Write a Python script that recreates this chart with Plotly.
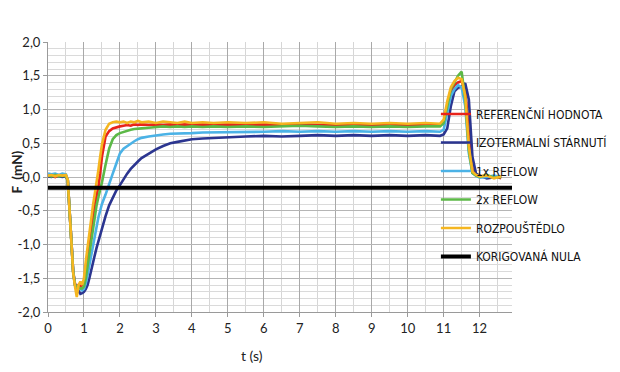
import plotly.graph_objects as go

# ---- data ----
t_s = [0, 0.1, 0.2, 0.3, 0.4, 0.5, 0.55, 0.6, 0.65, 0.7, 0.75, 0.8, 0.85, 0.9, 0.95,
       1.0, 1.05, 1.1, 1.15, 1.2, 1.25, 1.3, 1.35, 1.4, 1.45, 1.5, 1.6, 1.7, 1.8, 1.9,
       2.0, 2.1, 2.2, 2.3, 2.4, 2.5, 2.6, 2.8, 3.0, 3.2, 3.4, 3.6, 3.8, 4.0, 4.3, 4.6,
       5.0, 5.5, 6.0, 6.5, 7.0, 7.5, 8.0, 8.5, 9.0, 9.5, 10.0, 10.5, 10.9,
       11.0, 11.1, 11.2, 11.3, 11.4, 11.5, 11.6, 11.7, 11.8, 11.9, 12.0, 12.2, 12.4, 12.6]

referencni = [0.01, 0.02, 0.0, 0.02, 0.01, 0.02, -0.05, -0.5, -1.0, -1.4, -1.58, -1.62, -1.6, -1.62, -1.6,
              -1.58, -1.4, -1.2, -0.98, -0.78, -0.6, -0.42, -0.28, -0.15, 0.05, 0.3, 0.6, 0.68, 0.72, 0.74,
              0.75, 0.76, 0.77, 0.76, 0.78, 0.77, 0.78, 0.77, 0.78, 0.77, 0.78, 0.77, 0.78, 0.77, 0.78, 0.77,
              0.78, 0.77, 0.78, 0.77, 0.78, 0.77, 0.77, 0.78, 0.77, 0.78, 0.77, 0.78, 0.77,
              0.8, 1.02, 1.25, 1.36, 1.4, 1.42, 1.3, 0.65, 0.12, 0.03, 0.02, 0.0, 0.01, -0.02]

izotermalni = [0.01, 0.0, 0.02, 0.01, 0.0, 0.01, -0.05, -0.5, -1.0, -1.4, -1.6, -1.64, -1.68, -1.73, -1.72,
               -1.7, -1.66, -1.6, -1.5, -1.4, -1.28, -1.16, -1.05, -0.95, -0.85, -0.76, -0.58, -0.42, -0.3, -0.2,
               -0.12, -0.03, 0.05, 0.12, 0.18, 0.23, 0.28, 0.35, 0.41, 0.46, 0.5, 0.52, 0.54, 0.56, 0.57, 0.58,
               0.59, 0.6, 0.61, 0.6, 0.61, 0.62, 0.61, 0.62, 0.61, 0.62, 0.61, 0.62, 0.61,
               0.63, 0.72, 1.05, 1.27, 1.32, 1.34, 1.39, 1.15, 0.3, 0.05, 0.02, -0.02, 0.0, 0.01]

reflow1 = [0.05, 0.04, 0.05, 0.03, 0.05, 0.04, -0.04, -0.5, -1.0, -1.4, -1.6, -1.62, -1.64, -1.66, -1.68,
           -1.66, -1.58, -1.45, -1.3, -1.15, -1.0, -0.86, -0.72, -0.6, -0.5, -0.4, -0.26, -0.12, 0.05, 0.2,
           0.35, 0.42, 0.46, 0.5, 0.53, 0.56, 0.58, 0.6, 0.62, 0.63, 0.64, 0.64, 0.65, 0.65, 0.66, 0.66,
           0.67, 0.66, 0.67, 0.68, 0.67, 0.68, 0.67, 0.68, 0.67, 0.68, 0.67, 0.68, 0.67,
           0.7, 0.95, 1.2, 1.3, 1.36, 1.33, 1.05, 0.35, 0.06, 0.02, -0.01, 0.0, 0.02, 0.0]

reflow2 = [0.02, 0.01, 0.03, 0.01, 0.02, 0.01, -0.05, -0.5, -1.0, -1.42, -1.6, -1.62, -1.64, -1.65, -1.65,
           -1.62, -1.5, -1.32, -1.12, -0.93, -0.75, -0.57, -0.42, -0.3, -0.2, -0.08, 0.18, 0.42, 0.56, 0.62,
           0.65, 0.67, 0.69, 0.7, 0.71, 0.72, 0.72, 0.73, 0.74, 0.75, 0.74, 0.75, 0.74, 0.75, 0.74, 0.75,
           0.74, 0.75, 0.74, 0.75, 0.76, 0.75, 0.74, 0.75, 0.74, 0.75, 0.74, 0.75, 0.75,
           0.8, 1.08, 1.3, 1.4, 1.5, 1.56, 1.15, 0.4, 0.06, 0.02, 0.0, 0.03, -0.01, 0.0]

rozpoustedlo = [0.02, 0.03, 0.01, 0.03, 0.02, 0.03, -0.04, -0.5, -1.0, -1.42, -1.62, -1.78, -1.6, -1.55, -1.6,
                -1.5, -1.25, -1.02, -0.8, -0.6, -0.42, -0.25, -0.1, 0.1, 0.3, 0.48, 0.7, 0.79, 0.81, 0.82,
                0.81, 0.82, 0.8, 0.82, 0.81, 0.83, 0.81, 0.82, 0.8, 0.82, 0.81, 0.8, 0.82, 0.8, 0.81, 0.8,
                0.81, 0.8, 0.81, 0.79, 0.8, 0.81, 0.79, 0.8, 0.79, 0.8, 0.79, 0.8, 0.79,
                0.85, 1.12, 1.33, 1.42, 1.47, 1.45, 1.2, 0.45, 0.08, 0.03, 0.01, 0.02, -0.02, 0.01]

nula_t = [0.0, 12.9]
nula_f = [-0.16, -0.16]

series_names = ["REFERENČNÍ HODNOTA", "IZOTERMÁLNÍ STÁRNUTÍ", "1x REFLOW",
                "2x REFLOW", "ROZPOUŠTĚDLO", "KORIGOVANÁ NULA"]
series_colors = ["#e8231b", "#2b3590", "#4bb2e6", "#5cb947", "#f5b620", "#000000"]

x_ticks = list(range(0, 13))
y_ticks = [-2.0, -1.5, -1.0, -0.5, 0.0, 0.5, 1.0, 1.5, 2.0]
y_labels = ["-2,0", "-1,5", "-1,0", "-0,5", "0,0", "0,5", "1,0", "1,5", "2,0"]

# ---- figure ----
fig = go.Figure()
all_series = [(t_s, referencni), (t_s, izotermalni), (t_s, reflow1),
              (t_s, reflow2), (t_s, rozpoustedlo), (nula_t, nula_f)]
for (xs, ys), name, color in zip(all_series, series_names, series_colors):
    fig.add_trace(go.Scatter(
        x=xs, y=ys, mode="lines", name=name, legendgroup=name,
        line=dict(color=color, width=4 if color == "#000000" else 2.6),
    ))

fig.update_layout(
    width=620, height=372,
    margin=dict(l=40, r=116, t=34, b=68, autoexpand=False),
    paper_bgcolor="white", plot_bgcolor="white",
    font=dict(family="Lato, Liberation Sans, sans-serif", size=12, color="#222"),
    showlegend=True,
    legend=dict(
        x=0.836, xanchor="left", y=0.787, yanchor="top",
        bgcolor="rgba(0,0,0,0)", traceorder="grouped", tracegroupgap=9.5,
        font=dict(family="DejaVu Sans Condensed, Liberation Sans, sans-serif", size=12, color="#111"),
        itemwidth=30,
    ),
    xaxis=dict(
        range=[0, 12.9], tickvals=x_ticks, showgrid=True, gridcolor="#a9a9a9", gridwidth=1,
        minor=dict(dtick=0.5, tick0=0, showgrid=True, gridcolor="#d6d6d6"),
        showline=True, linecolor="#9a9a9a", ticks="outside", ticklen=4, tickcolor="#9a9a9a",
        zeroline=False, tickfont=dict(size=13), fixedrange=True, automargin=False,
    ),
    yaxis=dict(
        range=[-2, 2], tickvals=y_ticks, ticktext=y_labels, showgrid=True, gridcolor="#b5b5b5",
        minor=dict(dtick=0.1, tick0=0, showgrid=True, gridcolor="#dadada"),
        showline=True, linecolor="#9a9a9a", ticks="outside", ticklen=4, tickcolor="#9a9a9a",
        zeroline=False, tickfont=dict(size=13), fixedrange=True, automargin=False,
    ),
    annotations=[
        dict(text="t (s)", xref="paper", yref="paper", x=0.44, y=-0.16, showarrow=False,
             xanchor="center", yanchor="middle", font=dict(size=14)),
        dict(text="<b>F  (mN)</b>", xref="paper", yref="paper", x=-0.067, y=0.52, showarrow=False,
             textangle=-90, xanchor="center", yanchor="middle", font=dict(size=13.5)),
    ],
)

fig.write_html("out.html")
